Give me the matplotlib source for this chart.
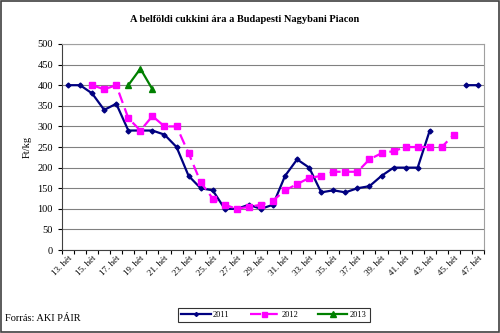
import numpy as np
import matplotlib
matplotlib.use("Agg")
import matplotlib.pyplot as plt

weeks = list(range(13, 48))
tick_labels = [f"{w}. hét" for w in weeks]

nan = np.nan
# 2011 (weeks 13..47)
s2011 = [400, 400, 380, 340, 355, 290, 290, 290, 280, 250, 180, 150, 145, 100, 100, 110, 100, 110,
         180, 220, 200, 140, 145, 140, 150, 155, 180, 200, 200, 200, 290, nan, nan, 400, 400]
# 2012
s2012 = [nan, nan, 400, 390, 400, 320, 290, 325, 300, 300, 235, 165, 125, 110, 100, 105, 110, 120,
         145, 160, 175, 180, 190, 190, 190, 220, 235, 240, 250, 250, 250, 250, 280, nan, nan]
# 2013
s2013 = [nan, nan, nan, nan, nan, 400, 440, 390] + [nan] * 27

series_names = ["2011", "2012", "2013"]

plt.rcParams['font.family'] = ['Liberation Serif', 'DejaVu Serif']

fig = plt.figure(figsize=(5.0, 3.33), dpi=100)
ax = fig.add_axes([0.124, 0.249, 0.844, 0.619])

x = np.arange(len(weeks))
ax.plot(x, s2011, color='#000080', lw=1.6, marker='D', ms=2.5, label=series_names[0])
ax.plot(x, s2012, color='#FF00FF', lw=1.6, ls=(0, (5, 2.5)), marker='s', ms=4.5, label=series_names[1])
ax.plot(x, s2013, color='#008000', lw=1.6, marker='^', ms=5, label=series_names[2])

ax.set_xlim(-0.5, len(weeks) - 0.5)
ax.set_ylim(0, 500)
ax.set_yticks(np.arange(0, 501, 50))
ax.tick_params(axis='y', labelsize=7.5, length=3, width=0.8, colors='#000000')
ax.yaxis.grid(True, color='#808080', lw=0.8)
ax.set_axisbelow(True)

ax.set_xticks(x[::2])
ax.set_xticklabels(tick_labels[::2], rotation=45, ha='right', rotation_mode='anchor', fontsize=6.5)
ax.tick_params(axis='x', length=0, pad=3)
ax.set_xticks(np.arange(-0.5, len(weeks)), minor=True)
ax.tick_params(axis='x', which='minor', length=3, width=0.8)

for side in ['top', 'right']:
    ax.spines[side].set_color('#a0a0a0')
    ax.spines[side].set_linewidth(0.8)
for side in ['left', 'bottom']:
    ax.spines[side].set_color('#404040')
    ax.spines[side].set_linewidth(0.8)

ax.set_ylabel('Ft/kg', fontsize=7.5, labelpad=4)

fig.text(0.49, 0.94, 'A belföldi cukkini ára a Budapesti Nagybani Piacon',
         ha='center', va='center', fontsize=7.5, fontweight='bold')
fig.text(0.01, 0.045, 'Forrás: AKI PÁIR', ha='left', va='center', fontsize=7.5)

leg = fig.legend(loc='center', bbox_to_anchor=(0.548, 0.054), ncol=3, fontsize=6,
                 frameon=True, fancybox=False, edgecolor='#000000', handlelength=3.5,
                 columnspacing=2.4, handletextpad=0.3, borderpad=0.35, markerscale=0.8)
leg.get_frame().set_linewidth(0.8)

# outer figure border
fig.patches.append(plt.Rectangle((0.002, 0.003), 0.996, 0.994, transform=fig.transFigure,
                                 fill=False, edgecolor='#404040', lw=1.2))

fig.savefig('out.png', dpi=100)
